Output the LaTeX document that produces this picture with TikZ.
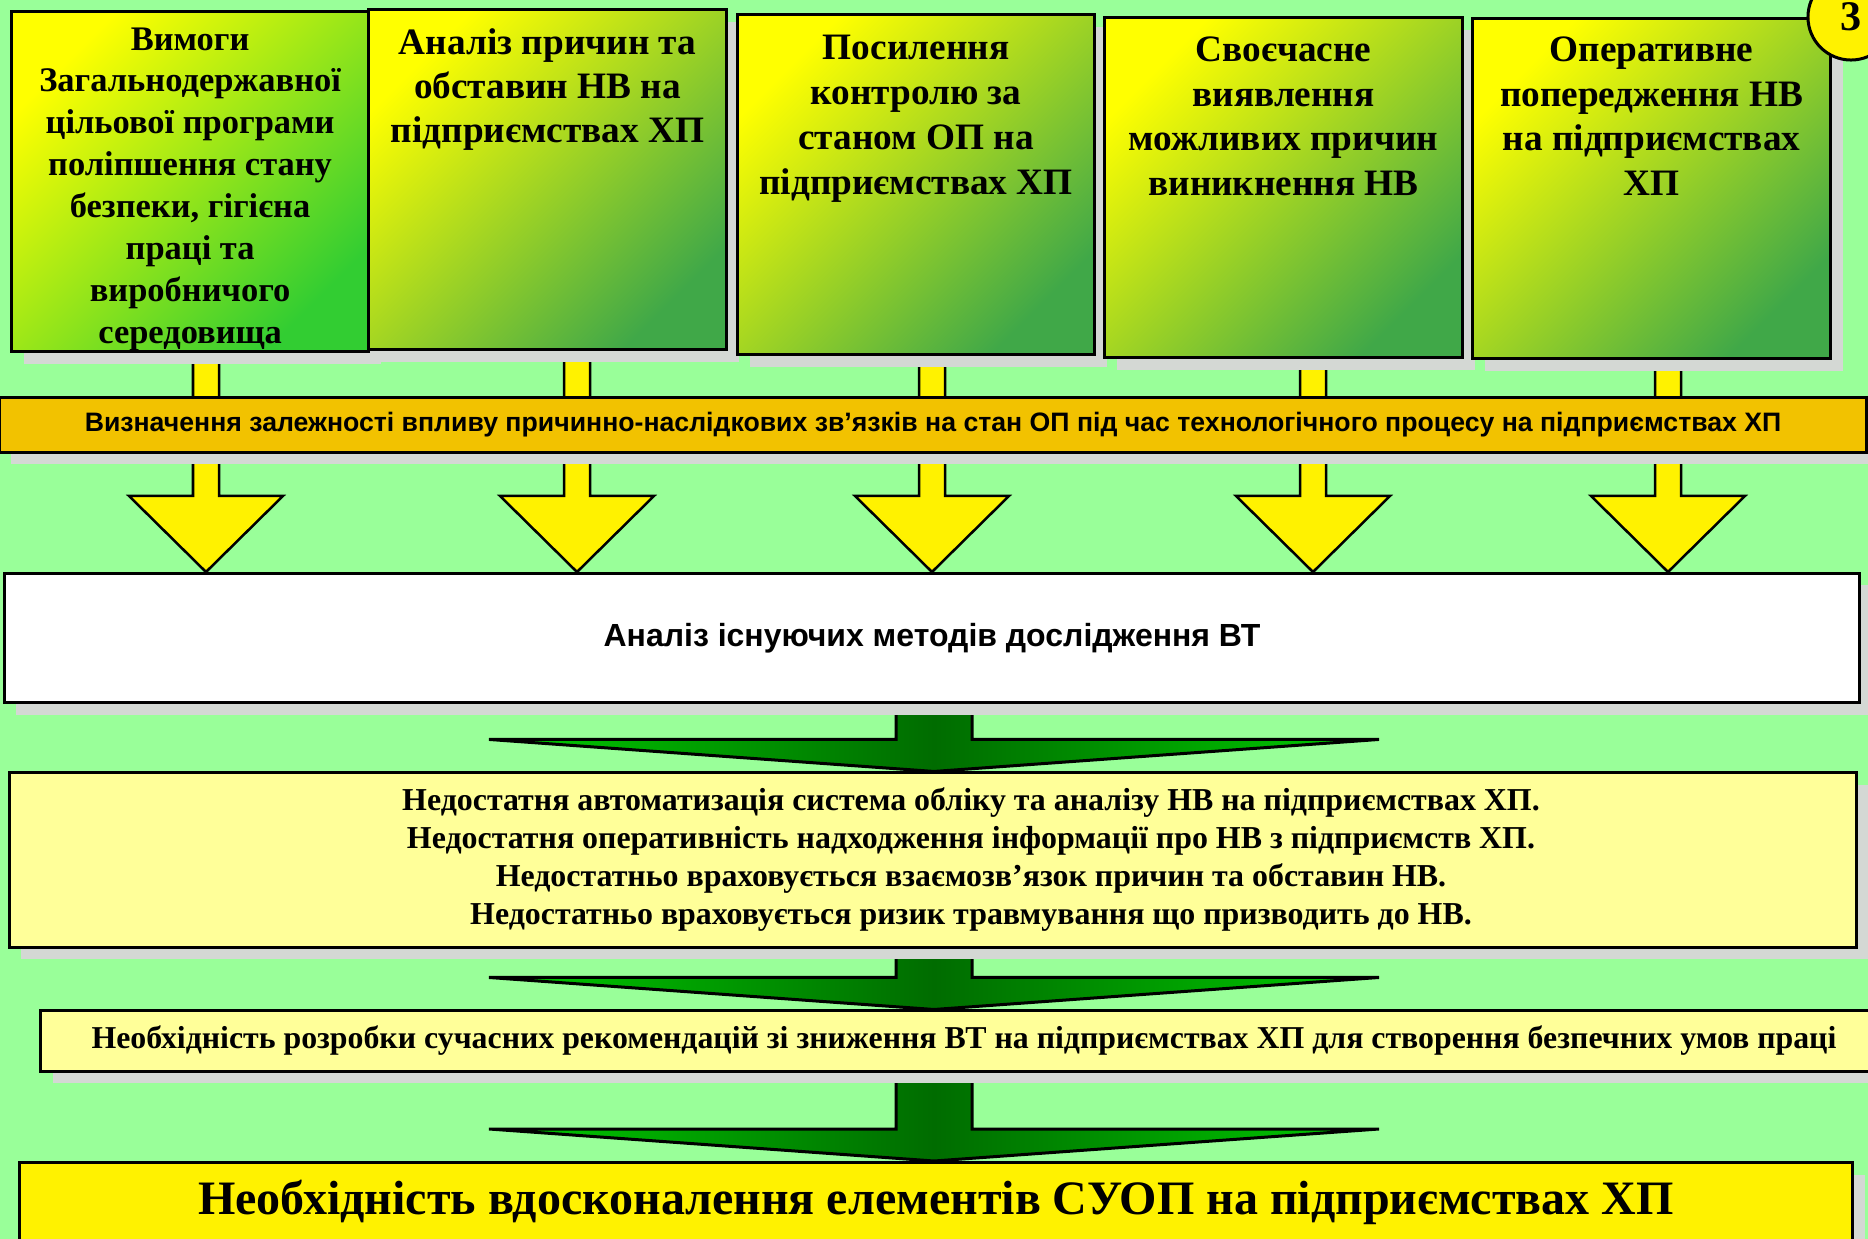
\documentclass[tikz,border=0pt]{standalone}
\usepackage{fontspec}
\setmainfont{Liberation Serif}
\setsansfont{Liberation Sans}
\usetikzlibrary{calc}
\usetikzlibrary{shadows}
\definecolor{bggreen}{RGB}{153,255,153}
\definecolor{boxgreen}{RGB}{64,168,72}
\definecolor{boxlime}{RGB}{50,205,50}
\definecolor{bandorange}{RGB}{242,194,0}
\definecolor{paleyellow}{RGB}{255,255,153}
\definecolor{shadowgrey}{RGB}{212,216,212}
\definecolor{gbright}{RGB}{0,204,0}
\definecolor{gdark}{RGB}{0,108,0}
\pgfdeclarelayer{bg}
\pgfsetlayers{bg,main}
\tikzset{
  shade box/.style={drop shadow={shadow xshift=1.2mm, shadow yshift=-1.2mm, fill=shadowgrey, opacity=1}},
  topbox/.style={anchor=north west, draw, line width=0.3mm, inner sep=0pt,
    top color=yellow, bottom color=boxgreen, shading angle=45, shade box,
    font=\bfseries},
  band/.style={draw, line width=0.3mm, fill=bandorange, inner sep=0pt,
    minimum width=186.6mm, minimum height=5.4mm, shade box,
    font=\sffamily\bfseries\fontsize{7.58}{9}\selectfont},
  whitebox/.style={draw, line width=0.3mm, fill=white, inner sep=0pt,
    minimum width=185.4mm, minimum height=12.9mm, shade box,
    font=\sffamily\bfseries\fontsize{9.1}{11}\selectfont},
  palebox/.style={draw, line width=0.3mm, fill=paleyellow, inner sep=0pt, shade box},
  finbox/.style={anchor=north west, draw, line width=0.3mm, fill=yellow, inner sep=0pt,
    minimum width=183.2mm, text height=5.2mm, text depth=3.8mm, shade box,
    font=\bfseries\fontsize{13.65}{16}\selectfont},
  numdisc/.style={circle, draw, line width=0.3mm, fill=yellow, inner sep=0pt,
    minimum size=8.6mm, font=\bfseries\fontsize{12}{12}\selectfont},
  yarrow/.style={draw, line width=0.25mm, fill=yellow},
  garrow/.style={draw, line width=0.3mm, left color=gbright, right color=gbright, middle color=gdark}
}
\begin{document}
\begin{tikzpicture}[x=0.01cm, y=-0.01cm]
\useasboundingbox (0,0) rectangle (1868,1239);
\begin{pgfonlayer}{bg}
  \fill[bggreen] (0,0) rectangle (1868,1239);
\end{pgfonlayer}

% top row
\node[topbox, bottom color=boxlime, shading angle=45] (top1) at (10,10) {\parbox[c][34mm][t]{35.7mm}{\centering\fontsize{9.8}{11.9}\selectfont\vspace*{1.6mm}Вимоги\\ Загальнодержавної\\ цільової програми\\ поліпшення стану\\ безпеки, гігієна\\ праці та\\ виробничого\\ середовища}};
\node[topbox] (top2) at (367,8) {\parbox[c][34mm][t]{35.8mm}{\centering\fontsize{10.6}{12.5}\selectfont\vspace*{1.9mm}Аналіз причин та\\ обставин НВ на\\ підприємствах ХП}};
\node[topbox] (top3) at (736,13) {\parbox[c][34mm][t]{35.7mm}{\centering\fontsize{10.6}{12.75}\selectfont\vspace*{2.1mm}Посилення\\ контролю за\\ станом ОП на\\ підприємствах ХП}};
\node[topbox] (top4) at (1103,16) {\parbox[c][34mm][t]{35.8mm}{\centering\fontsize{10.6}{12.75}\selectfont\vspace*{1.9mm}Своєчасне\\ виявлення\\ можливих причин\\ виникнення НВ}};
\node[topbox] (top5) at (1471,17) {\parbox[c][34mm][t]{35.8mm}{\centering\fontsize{10.6}{12.75}\selectfont\vspace*{1.8mm}Оперативне\\ попередження НВ\\ на підприємствах\\ ХП}};

\node[band] (band) at (933,425) {Визначення залежності впливу причинно-наслідкових зв’язків на стан ОП під час технологічного процесу на підприємствах ХП};

\node[whitebox] (mid) at (932,638) {Аналіз існуючих методів дослідження ВТ};

\node[palebox, minimum width=184.6mm, minimum height=17.4mm,
  font=\bfseries\fontsize{9.07}{10.8}\selectfont] (prob) at (933,860)
  {\hspace*{7.6mm}\begin{tabular}{@{}c@{}}
   Недостатня автоматизація система обліку та аналізу НВ на підприємствах ХП.\\
   Недостатня оперативність надходження інформації про НВ з підприємств ХП.\\
   Недостатньо враховується взаємозв’язок причин та обставин НВ.\\
   Недостатньо враховується ризик травмування що призводить до НВ.
   \end{tabular}};

\node[palebox, minimum width=183.3mm, minimum height=6mm,
  font=\bfseries\fontsize{9.05}{11}\selectfont] (need) at (958,1041)
  {\hspace{1.2mm}Необхідність розробки сучасних рекомендацій зі зниження ВТ на підприємствах ХП для створення безпечних умов праці};

\node[finbox] (fin) at (18,1161) {Необхідність вдосконалення елементів СУОП на підприємствах ХП};

\node[numdisc] (num) at (1851,17) {3};

\begin{pgfonlayer}{bg}
  % yellow arrows through the band
  \foreach \b/\x in {top1/206, top2/577, top3/932, top4/1313, top5/1668}{
    \coordinate (s) at (\x,0);
    \draw[yarrow] ($(s |- \b.south)+(-13,0)$) -- ($(s |- mid.north)+(-13,-76)$) -- ++(-64,0)
      -- (s |- mid.north) -- ++(77,-76) -- ++(-64,0) -- ($(s |- \b.south)+(13,0)$) -- cycle;
  }
  % green arrows
  \foreach \a/\b in {mid/prob, prob/need, need/fin}{
    \coordinate (g) at (934,0);
    \draw[garrow] ($(g |- \a.south)+(-38,0)$) -- ($(g |- \b.north)+(-38,-32)$) -- ++(-407,0)
      -- (g |- \b.north) -- ++(445,-32) -- ++(-407,0) -- ($(g |- \a.south)+(38,0)$) -- cycle;
  }
\end{pgfonlayer}
\end{tikzpicture}
\end{document}
